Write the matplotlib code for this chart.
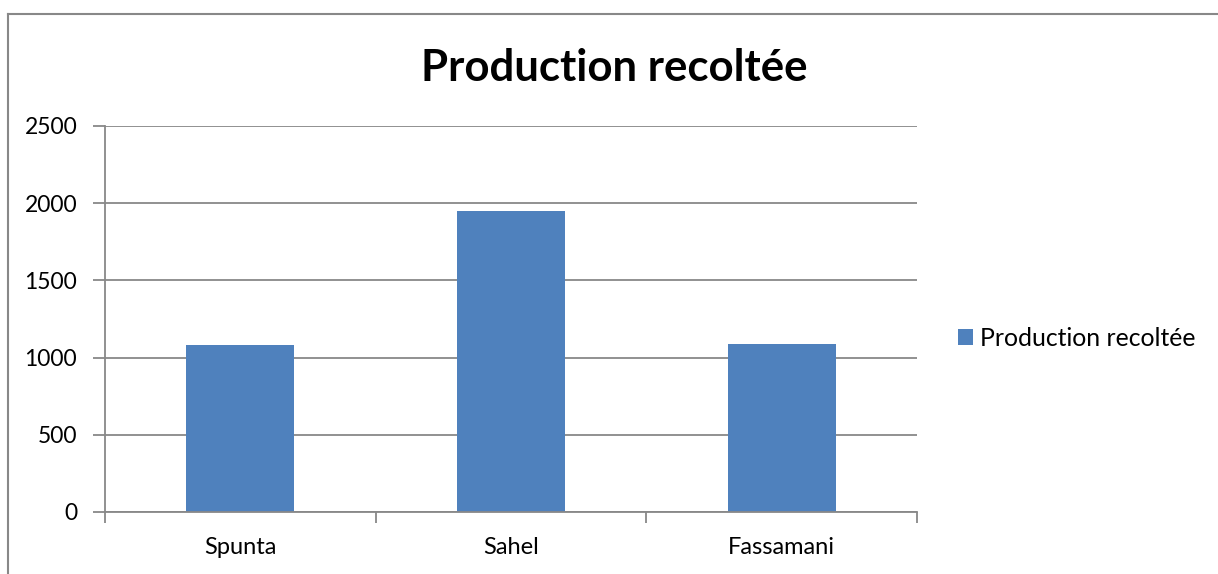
import matplotlib
matplotlib.use("Agg")
import matplotlib.pyplot as plt
from matplotlib.lines import Line2D

categories = ["Spunta", "Sahel", "Fassamani"]
values = [1080, 1950, 1090]
series_name = "Production recoltée"
title = "Production recoltée"
yticks = [0, 500, 1000, 1500, 2000, 2500]

plt.rcParams['font.family'] = ['Lato', 'DejaVu Sans']

W, H = 1218, 574
fig = plt.figure(figsize=(W / 100, H / 100), dpi=100)
ax = fig.add_axes([105 / W, 1 - 512 / H, (917 - 105) / W, (512 - 126) / H])

grey = "#888888"
x = list(range(len(categories)))
ax.bar(x, values, width=0.4, color="#4F81BD", label=series_name, zorder=3)
ax.set_xlim(-0.5, len(categories) - 0.5)
ax.set_ylim(0, 2500)
ax.set_yticks(yticks)
ax.yaxis.grid(True, color=grey, linewidth=1.3, zorder=0)
ax.set_xticks(x)
ax.set_xticklabels(categories)
ax.set_xticks([i - 0.5 for i in range(len(categories) + 1)], minor=True)
ax.tick_params(axis='x', which='major', length=0, pad=18, labelsize=17)
ax.tick_params(axis='x', which='minor', length=8, width=1.3, color=grey, direction='out')
ax.tick_params(axis='y', length=9, width=1.3, color=grey, pad=11, labelsize=16.5)
for s in ["top", "right"]:
    ax.spines[s].set_visible(False)
for s in ["left", "bottom"]:
    ax.spines[s].set_color(grey)
    ax.spines[s].set_linewidth(1.3)
    ax.spines[s].set_zorder(4)

fig.text(614 / W, 1 - 68 / H, title, ha='center', va='center', fontsize=31.5, fontweight='bold')

ax.legend(loc='center left', bbox_to_anchor=(958 / W, 1 - 338.5 / H), bbox_transform=fig.transFigure,
          frameon=False, borderpad=0, borderaxespad=0, handlelength=0.62, handleheight=0.62,
          handletextpad=0.25, fontsize=17.8)

# outer chart border (top and left visible)
fig.add_artist(Line2D([8 / W, 8 / W], [0, 1 - 14 / H], transform=fig.transFigure, color=grey, lw=1.5))
fig.add_artist(Line2D([8 / W, 1], [1 - 14 / H, 1 - 14 / H], transform=fig.transFigure, color=grey, lw=1.5))

fig.savefig("out.png", dpi=100)
